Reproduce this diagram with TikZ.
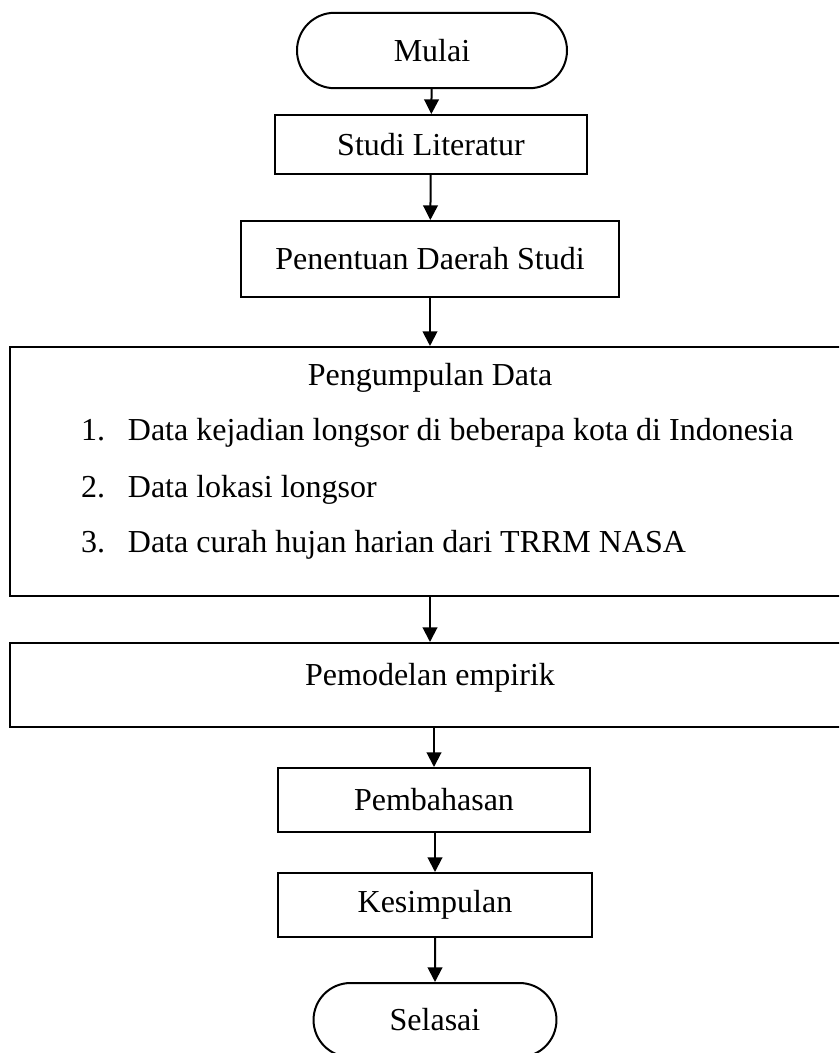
\documentclass[tikz,border=0pt]{standalone}
\usepackage{fontspec}
\setmainfont{Liberation Serif}
\usepackage{tikz}
\usetikzlibrary{shapes.misc}
\usetikzlibrary{arrows.meta}
\tikzset{terminal/.style={rounded rectangle, draw, inner sep=0pt}}
\tikzset{proses/.style={rectangle, draw, inner sep=0pt}}

\begin{document}
\begin{tikzpicture}[x=0.375pt,y=-0.375pt,line width=0.75pt,font=\fontsize{12}{14.4}\selectfont,>={Triangle[length=5.5pt,width=5.5pt]}]
\useasboundingbox (0,0) rectangle (839,1053);
\clip (0,0) rectangle (839,1053);
\node[terminal,minimum width=101.25pt,minimum height=28.3pt] (mulai) at (432,50.5) {Mulai};
\node[proses,minimum width=117pt,minimum height=22.1pt] (studi) at (431,144.5) {Studi Literatur};
\node[proses,minimum width=141.75pt,minimum height=28.5pt] (daerah) at (430,259) {Penentuan Daerah Studi};
\node[proses,minimum width=315pt,minimum height=93.4pt] (kumpul) at (430,471.5) {};
\node[anchor=base,inner sep=0pt] (kumpuljudul) at (430,385) {Pengumpulan Data};
\foreach \n/\y/\isi in {1/440/Data kejadian longsor di beberapa kota di Indonesia, 2/497/Data lokasi longsor, 3/552/Data curah hujan harian dari TRRM NASA} {
\node[anchor=base west,inner sep=0pt] (data\n) at (80,\y) {\makebox[17.6pt][l]{\n.}\isi};
}
\node[proses,minimum width=315pt,minimum height=31.5pt] (model) at (430,685) {};
\node[anchor=base,inner sep=0pt] (modeljudul) at (430,685) {Pemodelan empirik};
\node[proses,minimum width=117pt,minimum height=24pt] (bahas) at (434,800) {Pembahasan};
\node[proses,minimum width=117.4pt,minimum height=24pt] (simpul) at (435,905) {Kesimpulan};
\node[terminal,minimum width=91.1pt,minimum height=27.75pt] (selesai) at (435,1020) {Selasai};
%\node at (430,10) {};
\draw[->] (mulai) -- (studi);
\draw[->] (studi) -- (daerah);
\draw[->] (daerah) -- (kumpul);
\draw[->] (kumpul) -- (model);
\draw[->] (bahas.north |- model.south) -- (bahas.north);
\draw[->] (simpul.north |- bahas.south) -- (simpul.north);
\draw[->] (simpul) -- (selesai);
\end{tikzpicture}
\end{document}
